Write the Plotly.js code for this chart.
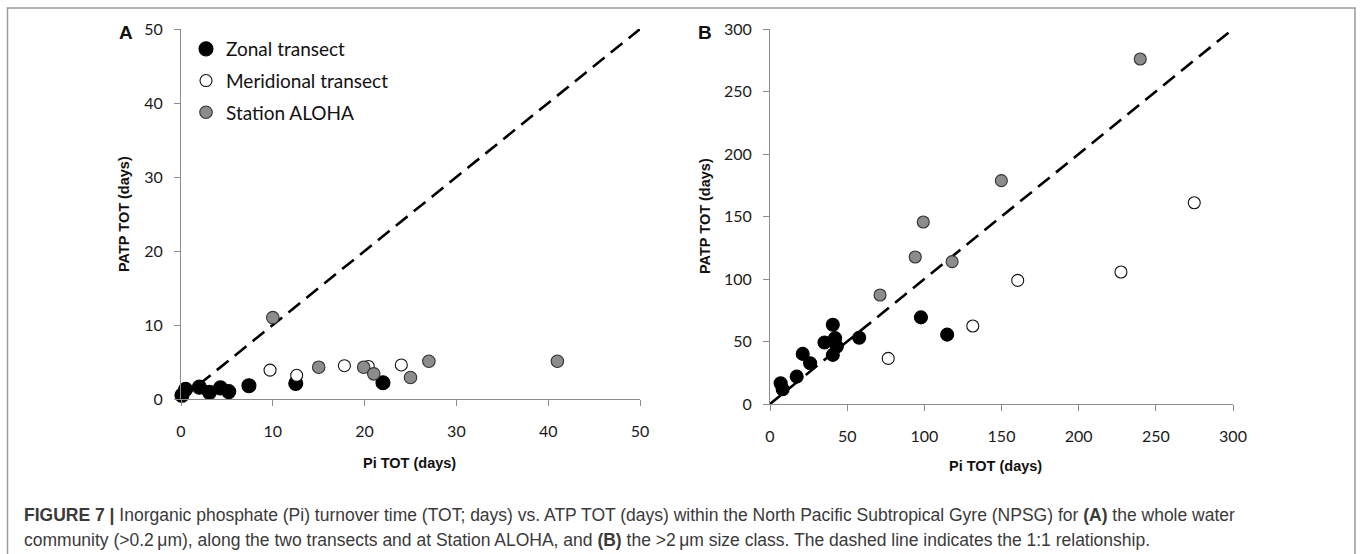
<!DOCTYPE html>
<html>
<head>
<meta charset="utf-8">
<script src="https://cdn.plot.ly/plotly-3.0.1.min.js"></script>
<style>
  html, body { margin: 0; padding: 0; background: #ffffff; }
  #chart { width: 1360px; height: 554px; }
</style>
</head>
<body>
<div id="chart"></div>
<script>
// Panel A: whole water community (>0.2 um), Pi TOT vs PATP TOT (days)
const zonalA_x = [0.1, 0.5, 2.0, 3.1, 4.3, 5.2, 7.4, 12.5, 22.0];
const zonalA_y = [0.5, 1.3, 1.6, 0.9, 1.5, 1.0, 1.8, 2.1, 2.2];
const meridA_x = [9.7, 12.6, 17.8, 20.4, 24.0];
const meridA_y = [3.9, 3.2, 4.5, 4.4, 4.6];
const alohaA_x = [10.0, 15.0, 19.9, 21.0, 25.0, 27.0, 41.0];
const alohaA_y = [11.0, 4.3, 4.3, 3.4, 2.9, 5.1, 5.1];

// Panel B: >2 um size class
const zonalB_x = [6.9, 8.2, 17.3, 21.2, 26.0, 35.3, 40.7, 42.2, 40.7, 43.3, 57.8, 97.8, 114.8];
const zonalB_y = [16.6, 11.8, 21.9, 40.1, 32.6, 49.2, 63.4, 52.7, 39.3, 46.0, 53.0, 69.3, 55.5];
const meridB_x = [76.6, 131.4, 160.5, 227.4, 274.9];
const meridB_y = [36.5, 62.4, 98.9, 105.6, 161.0];
const alohaB_x = [71.3, 94.1, 118.0, 99.3, 149.9, 239.9];
const alohaB_y = [87.2, 117.6, 113.9, 145.6, 178.7, 276.0];

// 1:1 reference lines
const oneToOneA = [0, 50];
const oneToOneB = [0, 300];

const seriesNames = ['Zonal transect', 'Meridional transect', 'Station ALOHA'];
const tickValsA = [0, 10, 20, 30, 40, 50];
const tickValsB = [0, 50, 100, 150, 200, 250, 300];

const W = 1360, H = 554;
const px = v => v / W;          // horizontal pixel -> paper fraction
const py = v => 1 - v / H;      // vertical pixel (from top) -> paper fraction

const styles = [
  { fill: '#000000', edge: '#000000', sizeA: 14, sizeB: 13 },
  { fill: '#ffffff', edge: '#111111', sizeA: 12, sizeB: 12 },
  { fill: '#8c8c8c', edge: '#333333', sizeA: 12.5, sizeB: 12 }
];

function markers(x, y, i, xa, ya, size, legend) {
  return {
    type: 'scatter', mode: 'markers', x: x, y: y,
    xaxis: xa, yaxis: ya, name: seriesNames[i],
    legendgroup: 'g' + i, showlegend: legend, cliponaxis: false,
    hoverinfo: 'x+y',
    marker: { color: styles[i].fill, size: size, line: { color: styles[i].edge, width: 1.1 } }
  };
}

function diagonal(vals, xa, ya) {
  return {
    type: 'scatter', mode: 'lines', x: vals, y: vals,
    xaxis: xa, yaxis: ya, showlegend: false, hoverinfo: 'skip',
    line: { color: '#000000', width: 2.6, dash: '15px,8px' }
  };
}

const traces = [
  diagonal(oneToOneA, 'x', 'y'),
  markers(zonalA_x, zonalA_y, 0, 'x', 'y', styles[0].sizeA, true),
  markers(meridA_x, meridA_y, 1, 'x', 'y', styles[1].sizeA, true),
  markers(alohaA_x, alohaA_y, 2, 'x', 'y', styles[2].sizeA, true),
  diagonal(oneToOneB, 'x2', 'y2'),
  markers(zonalB_x, zonalB_y, 0, 'x2', 'y2', styles[0].sizeB, false),
  markers(meridB_x, meridB_y, 1, 'x2', 'y2', styles[1].sizeB, false),
  markers(alohaB_x, alohaB_y, 2, 'x2', 'y2', styles[2].sizeB, false)
];

const tickFont = { family: 'Lato, "Open Sans", sans-serif', size: 16, color: '#1a1a1a' };
const axisBase = {
  showgrid: false, zeroline: false, showline: true,
  linecolor: '#8c8c8c', linewidth: 1,
  ticks: 'outside', ticklen: 6, tickcolor: '#8c8c8c', tickwidth: 1,
  tickfont: tickFont, fixedrange: true
};

const titleFont = { family: '"Liberation Sans", Arial, sans-serif', size: 14.5, color: '#111111' };
const panelFont = { family: '"Liberation Sans", Arial, sans-serif', size: 19, color: '#111111' };
const captionFont = { family: '"Liberation Sans", Arial, sans-serif', size: 17.5, color: '#3a3a3a' };

const annotations = [
  { text: '<b>A</b>', x: px(126), y: py(32), font: panelFont },
  { text: '<b>B</b>', x: px(705), y: py(32), font: panelFont },
  { text: '<b>Pi TOT (days)</b>', x: px(409), y: py(463), font: titleFont },
  { text: '<b>Pi TOT (days)</b>', x: px(996), y: py(466), font: titleFont },
  { text: '<b>PATP TOT (days)</b>', x: px(124), y: py(214), textangle: -90, font: titleFont },
  { text: '<b>PATP TOT (days)</b>', x: px(705), y: py(216), textangle: -90, font: titleFont },
  { text: '<b>FIGURE 7 |</b> Inorganic phosphate (Pi) turnover time (TOT; days) vs. ATP TOT (days) within the North Pacific Subtropical Gyre (NPSG) for <b>(A)</b> the whole water',
    x: px(22), y: py(515), xanchor: 'left', font: captionFont },
  { text: 'community (&gt;0.2\u2009\u03bcm), along the two transects and at Station ALOHA, and <b>(B)</b> the &gt;2\u2009\u03bcm size class. The dashed line indicates the 1:1 relationship.',
    x: px(22), y: py(540), xanchor: 'left', font: captionFont }
].map(a => Object.assign({ xref: 'paper', yref: 'paper', showarrow: false, xanchor: 'center', yanchor: 'middle' }, a));

const layout = {
  width: W, height: H,
  margin: { l: 0, r: 0, t: 0, b: 0, pad: 0 },
  paper_bgcolor: '#ffffff', plot_bgcolor: '#ffffff',
  showlegend: true,
  legend: {
    x: px(186), y: py(30), xanchor: 'left', yanchor: 'top',
    bgcolor: 'rgba(0,0,0,0)', borderwidth: 0,
    font: { family: 'Lato, "Open Sans", sans-serif', size: 19, color: '#111111' },
    tracegroupgap: 4, itemclick: false, itemdoubleclick: false
  },
  xaxis: Object.assign({}, axisBase, {
    domain: [px(181), px(640)], range: [0, 50], tickvals: tickValsA, anchor: 'y', ticklabelstandoff: 12
  }),
  yaxis: Object.assign({}, axisBase, {
    domain: [py(399), py(29)], range: [0, 50], tickvals: tickValsA, anchor: 'x', ticklabelstandoff: 8
  }),
  xaxis2: Object.assign({}, axisBase, {
    domain: [px(770), px(1233)], range: [0, 300], tickvals: tickValsB, anchor: 'y2', ticklabelstandoff: 12
  }),
  yaxis2: Object.assign({}, axisBase, {
    domain: [py(404), py(29)], range: [0, 300], tickvals: tickValsB, anchor: 'x2', ticklabelstandoff: 8
  }),
  shapes: [{
    type: 'path', xref: 'paper', yref: 'paper',
    path: 'M ' + px(7.5) + ' 0 L ' + px(7.5) + ' ' + py(8) + ' L ' + px(1355) + ' ' + py(8) + ' L ' + px(1355) + ' 0',
    line: { color: '#9a9a9a', width: 1.5 }
  }],
  annotations: annotations
};

Plotly.newPlot('chart', traces, layout, { staticPlot: true, displayModeBar: false });
</script>
</body>
</html>
